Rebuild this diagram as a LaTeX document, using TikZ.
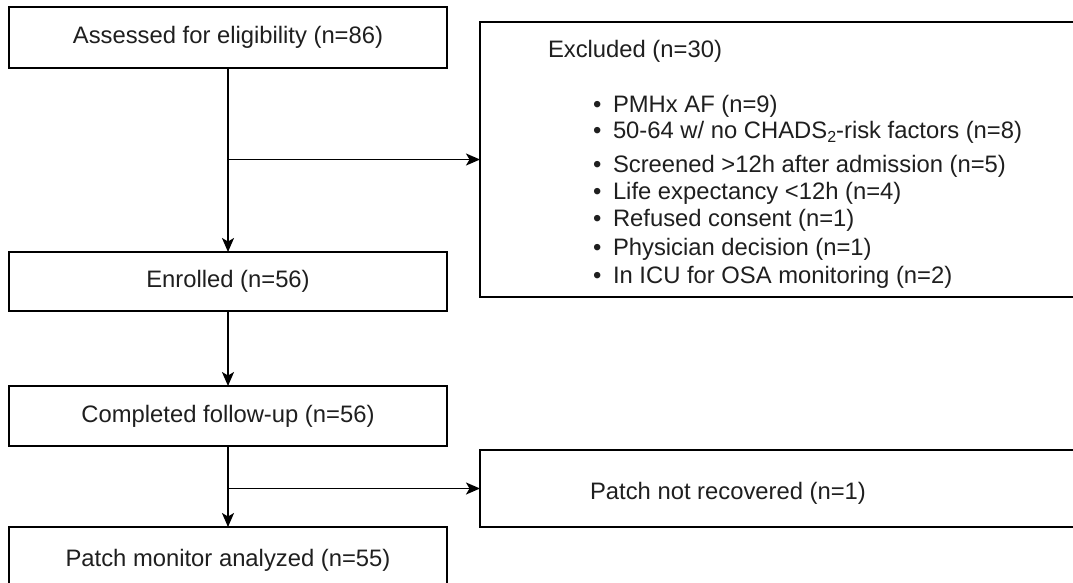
\documentclass[tikz,border=0pt]{standalone}
\usepackage{fontspec}
\setmainfont{Liberation Sans}
\usetikzlibrary{arrows.meta}
\newcommand{\diagfont}{\fontsize{23.8}{28}\selectfont}
\newcommand{\subtwo}{\raisebox{-0.35ex}{\fontsize{16}{16}\selectfont 2}}
\begin{document}
\begin{tikzpicture}[x=1pt,y=-1pt,
  box/.style={draw=black, line width=1.8pt, rectangle, inner sep=0pt, outer sep=0pt, font=\diagfont, text=black!88},
  conn/.style={draw=black, line width=1.8pt, -{Stealth[length=14pt,width=12pt,inset=3.5pt]}},
  txt/.style={inner sep=0pt, outer sep=0pt, anchor=base west, font=\diagfont, text=black!88},
  item/.style={txt}]
\useasboundingbox (0,0) rectangle (1073,582);
\clip (0,0) rectangle (1073,582);
\fill[white] (0,0) rectangle (1073,582);

% left column
\node[box, minimum width=438pt, minimum height=61pt] (assess) at (228,37.5) {Assessed for eligibility (n=86)};
\node[box, minimum width=438pt, minimum height=59pt] (enrol) at (228,281.5) {Enrolled (n=56)};
\node[box, minimum width=438pt, minimum height=60pt] (follow) at (228,416) {Completed follow-up (n=56)};
\node[box, minimum width=438pt, minimum height=66pt] (patch) at (228,560) {Patch monitor analyzed (n=55)};

% right column
\node[box, minimum width=610pt, minimum height=275pt] (excl) at (785,159.5) {};
\node[box, minimum width=610pt, minimum height=77pt] (notrec) at (785,488.5) {};
\node[txt, anchor=base] (notrect) at (728,499) {Patch not recovered (n=1)};

% excluded list
\node[txt] (exclt) at (548,57) {Excluded (n=30)};
\node[item] (i1) at (593,112) {\makebox[20pt][l]{•}PMHx AF (n=9)};
\node[item] (i2) at (593,138) {\makebox[20pt][l]{•}50-64 w/ no CHADS\subtwo-risk factors (n=8)};
\node[item] (i3) at (593,172) {\makebox[20pt][l]{•}Screened >12h after admission (n=5)};
\node[item] (i4) at (593,199) {\makebox[20pt][l]{•}Life expectancy <12h (n=4)};
\node[item] (i5) at (593,226) {\makebox[20pt][l]{•}Refused consent (n=1)};
\node[item] (i6) at (593,255) {\makebox[20pt][l]{•}Physician decision (n=1)};
\node[item] (i7) at (593,283) {\makebox[20pt][l]{•}In ICU for OSA monitoring (n=2)};

% connectors
\coordinate (br1) at (assess.south |- excl.west);
\coordinate (br2) at (follow.south |- notrec.west);
\draw[conn] (assess.south) -- (enrol.north);
\draw[conn] (br1) -- (excl.west);
\draw[conn] (enrol.south) -- (follow.north);
\draw[conn] (follow.south) -- (patch.north);
\draw[conn] (br2) -- (notrec.west);
\end{tikzpicture}
\end{document}
